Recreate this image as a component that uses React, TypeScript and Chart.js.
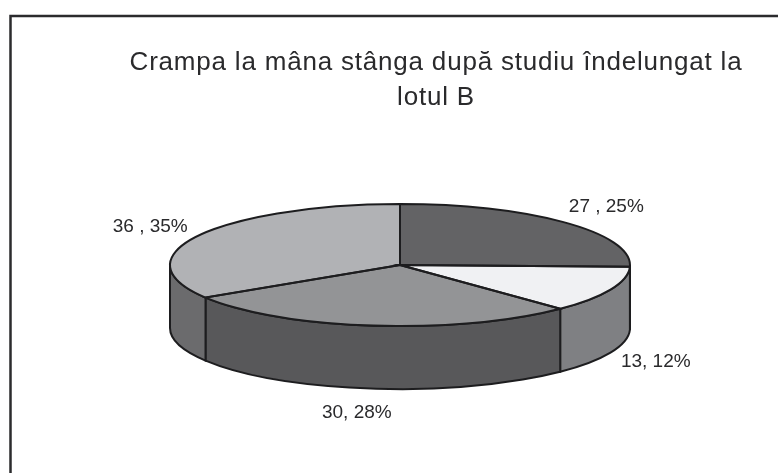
import React, { useEffect, useRef } from "react";
import { Chart, registerables } from "chart.js";

Chart.register(...registerables);

const categories = ["A", "B", "C", "D"];
const values = [27, 13, 30, 36];
const sliceLabels = ["27 , 25%", "13, 12%", "30, 28%", "36 , 35%"];
const topColors = ["#636365", "#f0f1f3", "#939496", "#b1b2b5"];
const wallColors = ["#4a4a4c", "#7f8083", "#58585a", "#6b6b6d"];
const titleLines = ["Crampa la mâna stânga după studiu îndelungat la", "lotul B"];
const labelNudgeX = [5, -1, -10, -4];
const labelNudgeY = [0, 0, 1, 2];

const CX = 400;
const CY = 265;
const RX = 230;
const RY = 61;
const DEPTH = 63;
const INK = "#1d1d1f";

const pie3d = {
  id: "pie3d",
  beforeDraw(chart: any) {
    const { ctx } = chart;
    ctx.save();
    ctx.fillStyle = "#ffffff";
    ctx.fillRect(0, 0, chart.width, chart.height);
    ctx.strokeStyle = "#2b2b2d";
    ctx.lineWidth = 2.5;
    ctx.beginPath();
    ctx.moveTo(778, 16);
    ctx.lineTo(10.5, 16);
    ctx.lineTo(10.5, 473);
    ctx.stroke();
    ctx.restore();
    ctx.letterSpacing = "0.8px";
  },
  beforeDatasetsDraw(chart: any) {
    const { ctx } = chart;
    ctx.letterSpacing = "0px";
    const arcs = chart.getDatasetMeta(0).data;
    ctx.save();
    ctx.strokeStyle = INK;
    ctx.lineWidth = 2;
    arcs.forEach((arc: any, i: number) => {
      const a = Math.max(arc.startAngle, 0);
      const b = Math.min(arc.endAngle, Math.PI);
      if (b <= a) return;
      ctx.beginPath();
      ctx.ellipse(CX, CY, RX, RY, 0, a, b);
      ctx.ellipse(CX, CY + DEPTH, RX, RY, 0, b, a, true);
      ctx.closePath();
      ctx.fillStyle = wallColors[i];
      ctx.fill();
      ctx.stroke();
    });
    ctx.restore();
    const r = arcs[0].outerRadius;
    ctx.save();
    ctx.translate(CX, CY);
    ctx.scale(RX / r, RY / r);
    ctx.translate(-arcs[0].x, -arcs[0].y);
  },
  afterDatasetsDraw(chart: any) {
    const { ctx } = chart;
    ctx.restore();
    const arcs = chart.getDatasetMeta(0).data;
    ctx.save();
    ctx.strokeStyle = INK;
    ctx.lineWidth = 2;
    arcs.forEach((arc: any) => {
      ctx.beginPath();
      ctx.moveTo(CX, CY);
      ctx.ellipse(CX, CY, RX, RY, 0, arc.startAngle, arc.endAngle);
      ctx.closePath();
      ctx.stroke();
    });
    ctx.fillStyle = "#2a2a2c";
    ctx.font = "19px 'Liberation Sans'";
    ctx.textAlign = "center";
    ctx.textBaseline = "middle";
    arcs.forEach((arc: any, i: number) => {
      const mid = (arc.startAngle + arc.endAngle) / 2;
      const s = Math.sin(mid);
      const x = CX + RX * 1.22 * Math.cos(mid) + labelNudgeX[i];
      const y = CY + RY * 1.38 * s + (s > 0 ? DEPTH : 0) + labelNudgeY[i];
      ctx.fillText(sliceLabels[i], x, y);
    });
    ctx.restore();
  },
};

export default function App() {
  const ref = useRef<HTMLCanvasElement | null>(null);
  useEffect(() => {
    if (!ref.current) return;
    const chart = new Chart(ref.current, {
      type: "pie",
      data: {
        labels: categories,
        datasets: [
          {
            data: values,
            backgroundColor: topColors,
            borderWidth: 0,
            clip: false,
          } as any,
        ],
      },
      options: {
        animation: false,
        responsive: false,
        layout: { padding: { top: 45, left: 94, right: 0, bottom: 60 } },
        plugins: {
          legend: { display: false },
          tooltip: { enabled: false },
          title: {
            display: true,
            text: titleLines,
            color: "#2a2a2c",
            padding: 0,
            font: { family: "'Liberation Sans'", size: 26, weight: "normal", lineHeight: 1.35 },
          },
        },
      },
      plugins: [pie3d],
    } as any);
    return () => chart.destroy();
  }, []);
  return (
    <div style={{ position: "absolute", left: 0, top: 0, width: 778, height: 473, background: "#fff" }}>
      <canvas ref={ref} width={778} height={473} style={{ display: "block", filter: "blur(0.4px)" }} />
    </div>
  );
}
